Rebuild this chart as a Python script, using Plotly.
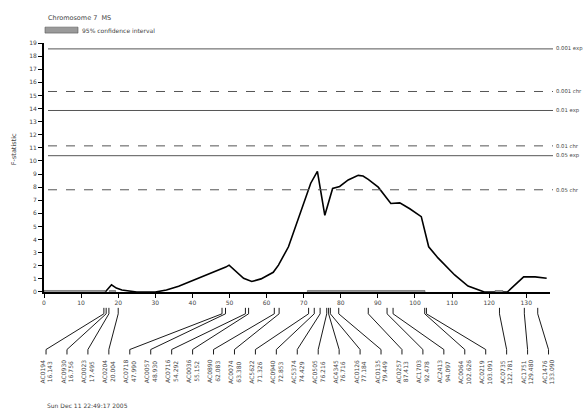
import numpy as np
import plotly.graph_objects as go

# ---- data -------------------------------------------------------------
# F-statistic profile along chromosome 7 (position in cM)
profile_cm = [0, 16.5, 18.2, 19.5, 21, 23, 25, 30, 33, 36.3, 40, 44, 47, 49, 49.9,
              53.8, 56, 58.5, 61.8, 63.2, 65.9, 68.6, 70.3, 71.9, 73.7, 75.7, 77.8,
              79.7, 82.0, 84.7, 86.0, 87.4, 90.1, 93.5, 95.9, 98.6, 101.7, 103.7,
              106.2, 110.7, 114.3, 117.8, 118.7, 124.9, 129.3, 132.4, 135.5]
profile_f = [0, 0, 0.55, 0.3, 0.15, 0.05, 0, 0, 0.15, 0.43, 0.85, 1.3, 1.68, 1.9, 2.05,
             1.05, 0.8, 1.0, 1.5, 2.05, 3.45, 5.6, 6.9, 8.3, 9.2, 5.85, 7.9,
             8.05, 8.55, 8.9, 8.85, 8.6, 8.0, 6.75, 6.8, 6.35, 5.75, 3.45,
             2.6, 1.3, 0.45, 0.05, 0, 0, 1.15, 1.15, 1.05]

# significance thresholds
thr_names = ["0.001 exp", "0.001 chr", "0.01 exp", "0.01 chr", "0.05 exp", "0.05 chr"]
thr_values = [18.55, 15.3, 13.85, 11.15, 10.4, 7.8]
thr_dash = ["solid", "dash", "solid", "dash", "solid", "dash"]

# 95% confidence interval segments (cM)
ci_start = [0.0, 17.6, 71.0, 121.6]
ci_end = [16.5, 19.3, 102.7, 123.7]

# markers on the linkage map
marker_names = ["AC0194", "AC0930", "AC0023", "AC0204", "AC0718", "AC0057", "AC0716",
                "AC0036", "AC0890", "AC0074", "AC5622", "AC0940", "AC5374", "AC0505",
                "AC4345", "AC0126", "AC0135", "AC0257", "AC1703", "AC2413", "AC0064",
                "AC0219", "AC0735", "AC1751", "AC1476"]
marker_cm = [16.143, 16.756, 17.495, 20.004, 47.990, 48.930, 54.292, 55.152, 62.083,
             63.380, 71.326, 72.853, 74.429, 76.216, 76.716, 77.184, 79.449, 87.413,
             92.478, 94.097, 102.626, 103.091, 122.781, 129.480, 133.090]

# ---- layout constants -------------------------------------------------
W, H = 583, 417
ML, MR, MT = 44, 33, 43
XMAX = 136.4
PLOT_W = W - ML - MR
PLOT_H = H - MT
BASE_PX = 294                      # pixel row of the x axis
split = (H - BASE_PX) / PLOT_H     # fraction of plot height below the axis

FONT = "DejaVu Sans"
TXT = "#444444"


def py(px):
    """pixel row -> paper y"""
    return (H - px) / PLOT_H


def pxr(px):
    """pixel column -> paper x"""
    return (px - ML) / PLOT_W


fig = go.Figure()

# profile curve
fig.add_trace(go.Scatter(x=profile_cm, y=profile_f, mode="lines",
                         line=dict(color="black", width=1.6),
                         hoverinfo="skip", showlegend=False))

# connectors from map positions down to the evenly spread marker labels
label_x = np.linspace(0.55, 136.0, len(marker_cm))
cx, cy = [], []
for m, lx in zip(marker_cm, label_x):
    cx += [m, m, lx, lx, None]
    cy += [-16, -22, -58, -63, None]
fig.add_trace(go.Scatter(x=cx, y=cy, yaxis="y2", mode="lines",
                         line=dict(color="black", width=0.9),
                         hoverinfo="skip", showlegend=False, cliponaxis=False))

shapes = []
annotations = []

# threshold lines with labels on the right
for name, v, d in zip(thr_names, thr_values, thr_dash):
    shapes.append(dict(type="line", xref="paper", yref="y",
                       x0=pxr(48), x1=pxr(553), y0=v, y1=v,
                       line=dict(color="#555555", width=1, dash=d)))
    annotations.append(dict(xref="paper", yref="y", x=pxr(554), y=v,
                            text=name, showarrow=False, xanchor="left",
                            yanchor="middle",
                            font=dict(family=FONT, size=5.3, color=TXT)))

# confidence interval bars on the axis
for a, b in zip(ci_start, ci_end):
    shapes.append(dict(type="rect", xref="x", yref="y", x0=a, x1=b,
                       ysizemode="pixel", yanchor=0, y0=-3.5, y1=1.5,
                       fillcolor="#9a9a9a", line=dict(color="#555555", width=0.6),
                       layer="above"))

# marker labels (name / position), rotated
for name, m, lx in zip(marker_names, marker_cm, label_x):
    annotations.append(dict(xref="x", yref="y2", x=lx, y=-66,
                            text=f"{name}<br>{m:.3f}",
                            textangle=-90, showarrow=False,
                            xanchor="center", yanchor="top",
                            font=dict(family=FONT, size=6, color=TXT)))

# title, legend key, axis title and date
annotations.append(dict(xref="paper", yref="paper", x=pxr(46), y=py(18),
                        text="Chromosome 7  MS", showarrow=False,
                        xanchor="left", yanchor="middle",
                        font=dict(family=FONT, size=6.5, color=TXT)))
shapes.append(dict(type="rect", xref="paper", yref="paper",
                   x0=pxr(45), x1=pxr(78), y0=py(33), y1=py(27),
                   fillcolor="#9a9a9a", line=dict(color="#555555", width=0.6)))
annotations.append(dict(xref="paper", yref="paper", x=pxr(80), y=py(30),
                        text="95% confidence interval", showarrow=False,
                        xanchor="left", yanchor="middle",
                        font=dict(family=FONT, size=6, color=TXT)))
annotations.append(dict(xref="paper", yref="paper", x=pxr(14), y=py(150),
                        text="F-statistic", textangle=-90, showarrow=False,
                        xanchor="center", yanchor="middle",
                        font=dict(family=FONT, size=6.5, color=TXT)))
annotations.append(dict(xref="paper", yref="paper", x=pxr(45), y=py(408),
                        text="Sun Dec 11 22:49:17 2005", showarrow=False,
                        xanchor="left", yanchor="middle",
                        font=dict(family=FONT, size=6, color=TXT)))

fig.update_layout(
    width=W, height=H,
    margin=dict(l=ML, r=MR, t=MT, b=0, pad=0),
    paper_bgcolor="white", plot_bgcolor="white",
    showlegend=False,
    shapes=shapes, annotations=annotations,
    xaxis=dict(range=[0, XMAX], anchor="y", showline=True, linecolor="black",
               linewidth=2, ticks="outside", ticklen=4, tickcolor="black",
               tickwidth=1, dtick=10, tick0=0, showgrid=False, zeroline=False,
               tickfont=dict(family=FONT, size=6, color=TXT)),
    yaxis=dict(domain=[split, 1], range=[0, 19], showline=True, linecolor="black",
               linewidth=2, ticks="outside", ticklen=4, tickcolor="black",
               tickwidth=1, dtick=1, tick0=0, showgrid=False, zeroline=False,
               tickfont=dict(family=FONT, size=6, color=TXT)),
    yaxis2=dict(domain=[0, split], range=[-(H - BASE_PX), 0], visible=False,
                showgrid=False, zeroline=False),
)

fig.write_html("out.html")
